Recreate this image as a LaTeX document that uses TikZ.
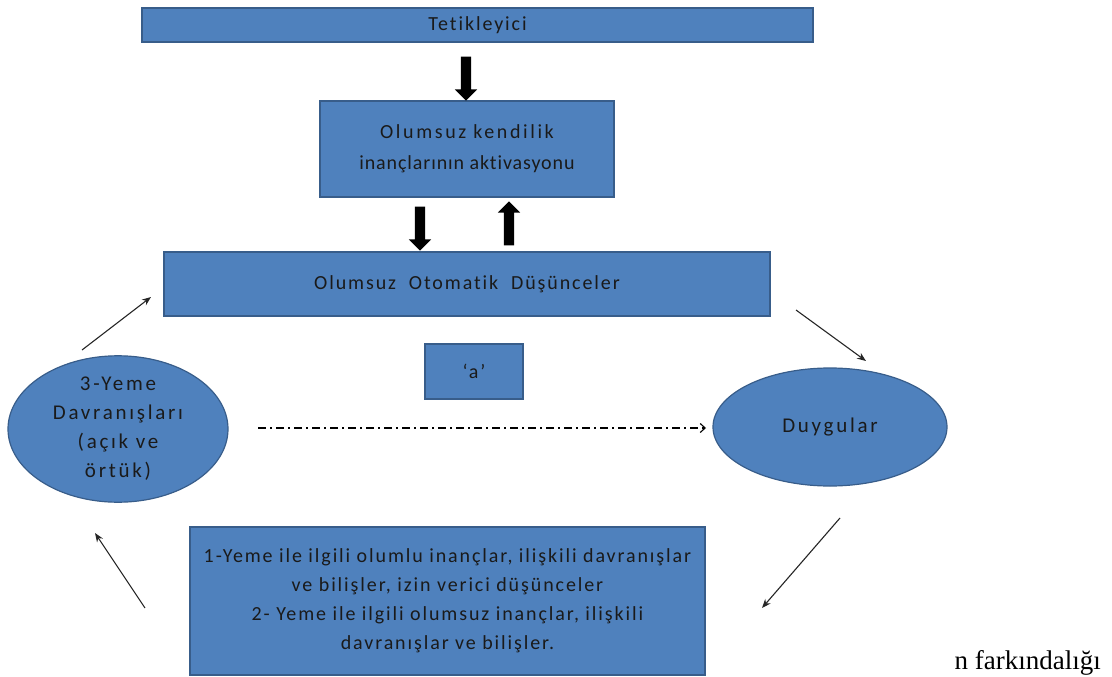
\documentclass[tikz,border=0pt]{standalone}
\usepackage{fontspec}
\setmainfont{Liberation Serif}
\newfontfamily\boxfont[LetterSpace=9.5,RawFeature={-liga}]{Carlito}
\newfontfamily\ovalfont[LetterSpace=13,RawFeature={-liga}]{Carlito}
\newfontfamily\widefont[LetterSpace=13,RawFeature={-liga}]{Carlito}
\newfontfamily\tightfont[LetterSpace=4.5,RawFeature={-liga}]{Carlito}
\usetikzlibrary{shapes.geometric,shapes.arrows,arrows.meta}
\definecolor{boxblue}{HTML}{4F81BD}
\definecolor{boxedge}{HTML}{385D8A}
\definecolor{boxtext}{HTML}{1A1A1A}
\begin{document}
\begin{tikzpicture}[x=1pt,y=-1pt,
  bluebox/.style={draw=boxedge,line width=1.2pt,fill=boxblue,rectangle,
    inner sep=0pt,text=boxtext,font=\boxfont\fontsize{20}{29}\selectfont,align=center},
  blueoval/.style={draw=boxedge,line width=1.2pt,fill=boxblue,ellipse,
    inner sep=0pt,text=boxtext,font=\ovalfont\fontsize{21}{29}\selectfont,align=center},
  blockarrow/.style={single arrow,fill=black,draw=none,inner sep=5pt,
    minimum height=44pt,single arrow head extend=6pt,single arrow tip angle=90},
  thinarrow/.style={draw=black!85,line width=1.1pt,-{Stealth[length=9pt,width=7pt]}},
  dotdash/.style={draw=black,line width=1.1pt,
    dash pattern=on 8pt off 4pt on 2pt off 4pt,-{Straight Barb[length=5pt,width=9pt]}}]
\useasboundingbox (0,0) rectangle (1112,677);

% boxes of the cycle
\node[bluebox,minimum width=671pt,minimum height=34pt] (trig) at (477.5,25) {Tetikleyici};
\node[bluebox,minimum width=294pt,minimum height=96pt,font=\fontsize{20}{31}\selectfont]
  (schema) at (467,149) {{\widefont Olumsuz kendilik}\\{\tightfont inançlarının aktivasyonu}};
\node[bluebox,minimum width=606pt,minimum height=64pt] (nat) at (467,284)
  {Olumsuz\ \ Otomatik\ \ Düşünceler};
\node[bluebox,minimum width=98pt,minimum height=55pt] (a) at (474,371.5) {‘a’};
\node[blueoval,minimum width=220pt,minimum height=122pt] (eat) at (118,429)
  {3-Yeme\\Davranışları\\(açık ve\\örtük)};
\node[blueoval,minimum width=234pt,minimum height=118pt] (emo) at (830,427) {Duygular};
\node[bluebox,minimum width=515pt,minimum height=148pt] (bel) at (447.5,601)
  {1-Yeme ile ilgili olumlu inançlar, ilişkili davranışlar\\
   ve bilişler, izin verici düşünceler\\
   2- Yeme ile ilgili olumsuz inançlar, ilişkili\\
   davranışlar ve bilişler.};

% thick block arrows between the upper boxes
\node[blockarrow,shape border rotate=270] (b1) at (466,76) {};
\node[blockarrow,shape border rotate=270] (b2) at (420,226) {};
\node[blockarrow,shape border rotate=90] (b3) at (509,226) {};

% free ends of the thin connectors
\coordinate (p1) at (82,350);   \coordinate (q1) at (151,297);
\coordinate (p2) at (796,310);  \coordinate (q2) at (866,361);
\coordinate (p3) at (840,518);  \coordinate (q3) at (762,608);
\coordinate (p4) at (145,608);  \coordinate (q4) at (95,533);
\coordinate (p5) at (258,428);  \coordinate (q5) at (706,428);

\draw[thinarrow] (p1) -- (q1);
\draw[thinarrow] (p2) -- (q2);
\draw[thinarrow] (p3) -- (q3);
\draw[thinarrow] (p4) -- (q4);
\draw[dotdash] (p5) -- (q5);

% stray caption text at the lower right
\node[anchor=base east,font=\fontsize{27}{30}\selectfont,inner sep=0pt] (cap) at (1101,669) {n farkındalığı};
\end{tikzpicture}
\end{document}
